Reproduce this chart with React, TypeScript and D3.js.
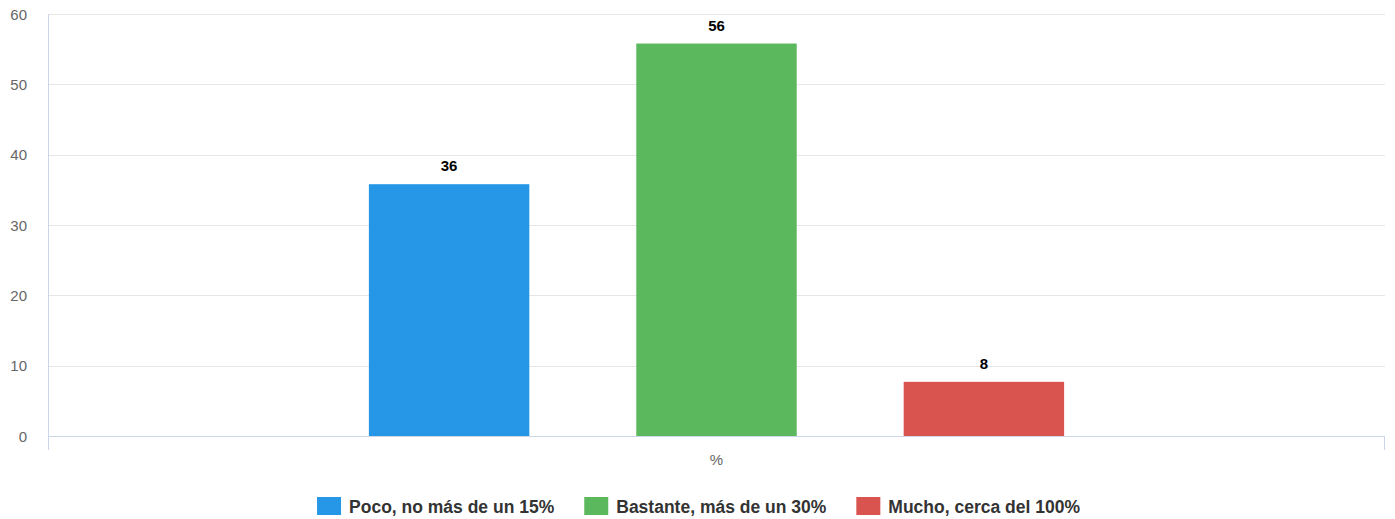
import React, { useEffect, useRef } from 'react'
import * as d3 from 'd3'

const categories = ['%']
const seriesNames = ['Poco, no más de un 15%', 'Bastante, más de un 30%', 'Mucho, cerca del 100%']
const seriesValues = [35.8, 55.8, 7.7]
const seriesColors = ['#2597e6', '#5cb85c', '#d9534f']
const yTicks = [0, 10, 20, 30, 40, 50, 60]

const App = () => {
    const svgRef = useRef<SVGSVGElement>(null)

    useEffect(() => {
        const width = 1395
        const height = 519
        const margin = { top: 14, right: 10, bottom: 83, left: 48 }
        const innerWidth = width - margin.left - margin.right
        const innerHeight = height - margin.top - margin.bottom
        const font = 'Liberation Sans, Arial, Helvetica, sans-serif'

        const svg = d3.select(svgRef.current)
        svg.selectAll('*').remove()
        svg.attr('width', width).attr('height', height)

        const g = svg.append('g').attr('transform', `translate(${margin.left},${margin.top})`)

        const x0 = d3.scaleBand().domain(categories).range([0, innerWidth]).paddingInner(0).paddingOuter(0)
        const x1 = d3.scaleBand()
            .domain(seriesNames)
            .range([x0.bandwidth() * 0.2, x0.bandwidth() * 0.8])
            .paddingInner(0.4)
            .paddingOuter(0.2)
        const y = d3.scaleLinear().domain([0, 60]).range([innerHeight, 0])

        // gridlines
        g.selectAll('line.grid')
            .data(yTicks.filter(t => t > 0))
            .enter()
            .append('line')
            .attr('x1', 0)
            .attr('x2', innerWidth)
            .attr('y1', d => Math.round(y(d)) + 0.5)
            .attr('y2', d => Math.round(y(d)) + 0.5)
            .attr('stroke', '#e6e6e6')

        // y labels
        g.selectAll('text.ytick')
            .data(yTicks)
            .enter()
            .append('text')
            .attr('x', -21)
            .attr('y', d => y(d) + 5.5)
            .attr('text-anchor', 'end')
            .attr('font-family', font)
            .attr('font-size', 15)
            .attr('fill', '#666')
            .text(d => d)

        // axis lines
        g.append('line')
            .attr('x1', 0.5).attr('x2', 0.5)
            .attr('y1', 0).attr('y2', innerHeight + 14)
            .attr('stroke', '#ccd6eb')
        g.append('line')
            .attr('x1', 0).attr('x2', innerWidth)
            .attr('y1', innerHeight + 0.5).attr('y2', innerHeight + 0.5)
            .attr('stroke', '#ccd6eb')
        g.append('line')
            .attr('x1', innerWidth - 0.5).attr('x2', innerWidth - 0.5)
            .attr('y1', innerHeight).attr('y2', innerHeight + 14)
            .attr('stroke', '#ccd6eb')

        // x label
        g.append('text')
            .attr('x', (x0('%') || 0) + x0.bandwidth() / 2)
            .attr('y', innerHeight + 29)
            .attr('text-anchor', 'middle')
            .attr('font-family', font)
            .attr('font-size', 15)
            .attr('fill', '#666')
            .text(categories[0])

        const rows = seriesNames.map((name, i) => ({ name, value: seriesValues[i], color: seriesColors[i] }))

        g.selectAll('rect.bar')
            .data(rows)
            .enter()
            .append('rect')
            .attr('x', d => (x0('%') || 0) + (x1(d.name) || 0))
            .attr('y', d => y(d.value))
            .attr('width', x1.bandwidth())
            .attr('height', d => innerHeight - y(d.value))
            .attr('fill', d => d.color)

        g.selectAll('text.val')
            .data(rows)
            .enter()
            .append('text')
            .attr('x', d => (x0('%') || 0) + (x1(d.name) || 0) + x1.bandwidth() / 2)
            .attr('y', d => y(d.value) - 13)
            .attr('text-anchor', 'middle')
            .attr('font-family', font)
            .attr('font-size', 15)
            .attr('font-weight', 'bold')
            .attr('fill', '#000')
            .text(d => Math.round(d.value))

        // legend
        const legend = svg.append('g')
        let offset = 0
        rows.forEach(d => {
            const item = legend.append('g').attr('transform', `translate(${offset},0)`)
            item.append('rect')
                .attr('x', 0).attr('y', 0)
                .attr('width', 24).attr('height', 18)
                .attr('fill', d.color)
            const t = item.append('text')
                .attr('x', 32)
                .attr('y', 16)
                .attr('font-family', font)
                .attr('font-size', 17.5)
                .attr('font-weight', 'bold')
                .attr('fill', '#333')
                .text(d.name)
            const w = (t.node() as SVGTextElement).getComputedTextLength()
            offset += 32 + w + 30
        })
        const total = offset - 30
        legend.attr('transform', `translate(${(width - total) / 2 + 1},497)`)
    }, [])

    return (
        <div style={{ position: 'absolute', left: 0, top: 0 }}>
            <svg ref={svgRef}></svg>
        </div>
    )
}

export default App
